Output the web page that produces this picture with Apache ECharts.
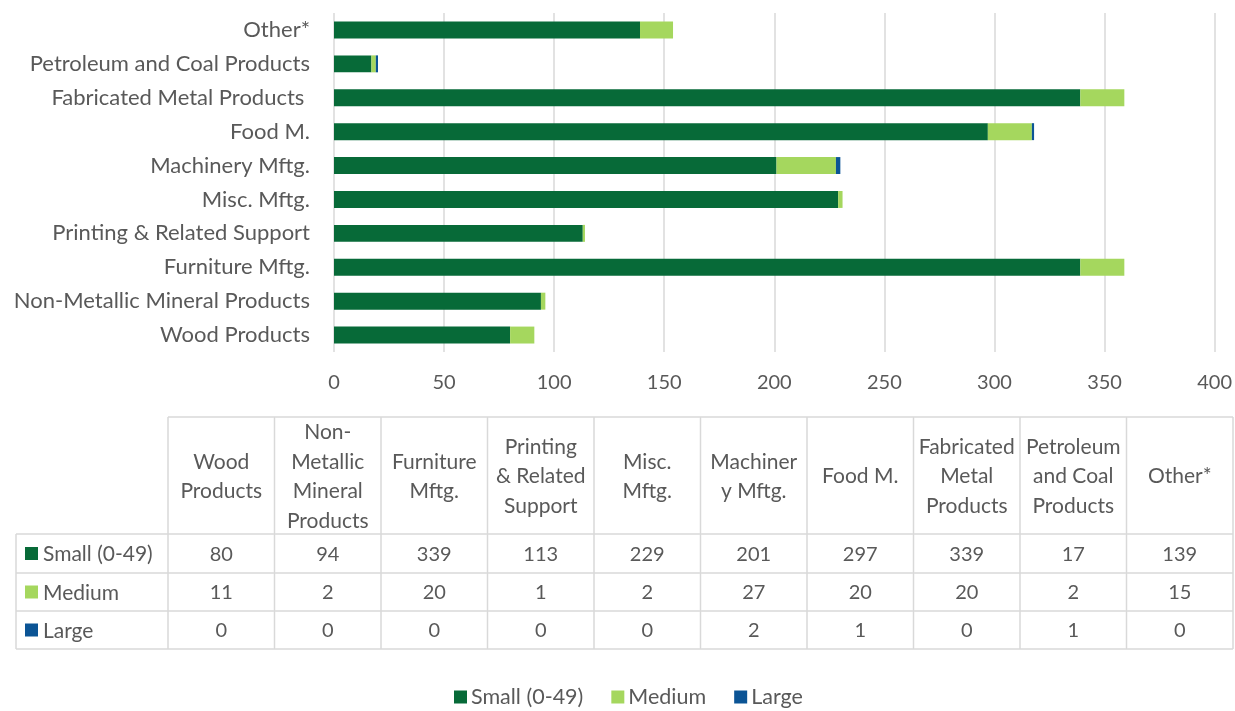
<!DOCTYPE html>
<html>
<head>
<meta charset="utf-8">
<script src="https://cdn.jsdelivr.net/npm/echarts@6/dist/echarts.min.js"></script>
<style>
  html, body { margin: 0; padding: 0; background: #fff; }
  #chart { width: 1235px; height: 711px; }
</style>
</head>
<body>
<div id="chart"></div>
<script>
  // categories, bottom to top on the chart (same order as the table columns)
  const categories = ['Wood Products', 'Non-Metallic Mineral Products', 'Furniture Mftg.', 'Printing & Related Support',
    'Misc. Mftg.', 'Machinery Mftg.', 'Food M.', 'Fabricated Metal Products ', 'Petroleum and Coal Products', 'Other*']
  // how the table header wraps each category
  const headerLines = [
    ['Wood', 'Products'], ['Non-', 'Metallic', 'Mineral', 'Products'], ['Furniture', 'Mftg.'],
    ['Printing', '& Related', 'Support'], ['Misc.', 'Mftg.'], ['Machiner', 'y Mftg.'], ['Food M.'],
    ['Fabricated', 'Metal', 'Products'], ['Petroleum', 'and Coal', 'Products'], ['Other*']
  ]
  const seriesNames = ['Small (0-49)', 'Medium', 'Large']
  const small = [80, 94, 339, 113, 229, 201, 297, 339, 17, 139]
  const medium = [11, 2, 20, 1, 2, 27, 20, 20, 2, 15]
  const large = [0, 0, 0, 0, 0, 2, 1, 0, 1, 0]
  const xTicks = [0, 50, 100, 150, 200, 250, 300, 350, 400]

  const colors = ['#076a38', '#a5d75e', '#0b5495']
  const seriesData = [small, medium, large]
  const font = 'Lato, "Open Sans", sans-serif'
  const textColor = '#595959'
  const lineColor = '#d9d9d9'

  // table layout
  const tLeft = 16, tLabelRight = 168, tRight = 1233
  const tTop = 417, rowLines = [534, 573, 611, 649]
  const colW = (tRight - tLabelRight) / categories.length

  const graphic = []
  const line = (x1, y1, x2, y2) => graphic.push({
    type: 'line', silent: true,
    shape: { x1: x1, y1: y1, x2: x2, y2: y2 },
    style: { stroke: lineColor, lineWidth: 1.5 }
  })
  // borders
  line(tLabelRight, tTop, tRight, tTop)
  rowLines.forEach(y => line(tLeft, y, tRight, y))
  line(tLeft, rowLines[0], tLeft, rowLines[3])
  for (let i = 0; i <= categories.length; i++) {
    const x = tLabelRight + i * colW
    line(x, tTop, x, rowLines[3])
  }
  // header texts
  const headMid = (tTop + rowLines[0]) / 2 + 1
  headerLines.forEach((lines, i) => {
    graphic.push({
      type: 'text', silent: true,
      x: tLabelRight + (i + 0.5) * colW, y: headMid,
      style: {
        text: lines.join('\n'), font: '21px ' + font, fill: textColor,
        align: 'center', verticalAlign: 'middle', lineHeight: 29.5
      }
    })
  })
  // value rows
  seriesNames.forEach((name, r) => {
    const yMid = (rowLines[r] + rowLines[r + 1]) / 2
    graphic.push({
      type: 'rect', silent: true,
      shape: { x: 25, y: yMid - 6.5, width: 13, height: 13 },
      style: { fill: colors[r] }
    })
    graphic.push({
      type: 'text', silent: true, x: 43, y: yMid + 1,
      style: { text: name, font: '21px ' + font, fill: textColor, verticalAlign: 'middle' }
    })
    seriesData[r].forEach((v, i) => {
      graphic.push({
        type: 'text', silent: true,
        x: tLabelRight + (i + 0.5) * colW, y: yMid + 1,
        style: { text: String(v), font: '20px ' + font, fill: textColor, align: 'center', verticalAlign: 'middle' }
      })
    })
  })

  const option = {
    animation: false,
    textStyle: { fontFamily: font },
    grid: { left: 334, right: 19, top: 13, bottom: 359, containLabel: false },
    xAxis: {
      type: 'value', min: xTicks[0], max: xTicks[xTicks.length - 1], interval: 50,
      axisLine: { show: false }, axisTick: { show: false },
      splitLine: { lineStyle: { color: lineColor, width: 1.5 } },
      axisLabel: { color: textColor, fontSize: 20, margin: 21 }
    },
    yAxis: {
      type: 'category', data: categories,
      axisLine: { show: false }, axisTick: { show: false },
      axisLabel: { color: textColor, fontSize: 22, margin: 24 }
    },
    legend: {
      bottom: -2, left: 449, itemWidth: 13, itemHeight: 13, itemGap: 28,
      icon: 'rect',
      textStyle: { color: textColor, fontSize: 21.5, padding: [0, 0, 0, -1] },
      data: seriesNames
    },
    series: seriesNames.map((name, r) => ({
      name: name, type: 'bar', stack: 'total', barWidth: '50%',
      itemStyle: { color: colors[r] },
      data: seriesData[r]
    })),
    graphic: graphic
  }

  const chart = echarts.init(document.getElementById('chart'))
  chart.setOption(option)
</script>
</body>
</html>
